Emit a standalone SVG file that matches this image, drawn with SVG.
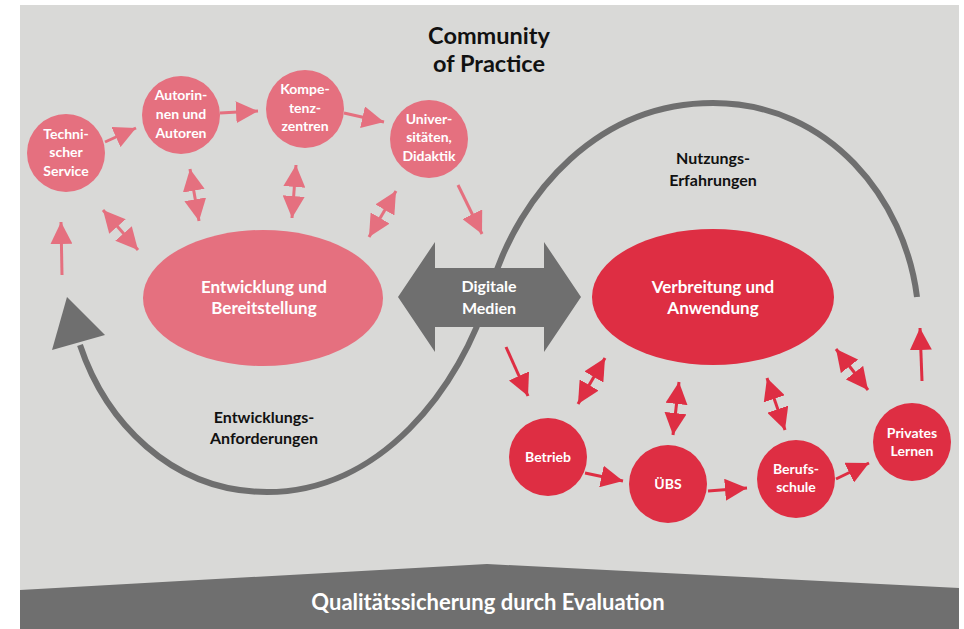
<svg xmlns="http://www.w3.org/2000/svg" width="964" height="629" viewBox="0 0 964 629">
<defs>
<style>
.bg{fill:#d9d9d7}
.dark{fill:#6f6f6f}
.pk{fill:#e5707f}
.rd{fill:#de2e43}
.t{font-family:Lato,"Liberation Sans",sans-serif;font-weight:700;text-anchor:middle}
.w{fill:#ffffff}
.k{fill:#111111}
.cl{stroke:#6f6f6f;stroke-width:6;fill:none}
.lp{stroke:#e5707f;stroke-width:3;fill:none}
.lr{stroke:#de2e43;stroke-width:3;fill:none}
</style>
<marker id="hp" markerUnits="userSpaceOnUse" markerWidth="22" markerHeight="22" viewBox="0 0 20 20" refX="20" refY="10" orient="auto-start-reverse"><path d="M0,0 L20,10 L0,20 z" fill="#e5707f"/></marker>
<marker id="hr" markerUnits="userSpaceOnUse" markerWidth="22" markerHeight="22" viewBox="0 0 20 20" refX="20" refY="10" orient="auto-start-reverse"><path d="M0,0 L20,10 L0,20 z" fill="#de2e43"/></marker>
</defs>
<rect class="bg" x="20" y="5" width="939" height="624"/>
<polygon class="dark" points="20,590 487,564 959,588 959,629 20,629"/>
<text class="t w" x="488" y="610" font-size="22">Qualitätssicherung durch Evaluation</text>
<text class="t k" x="489" y="44" font-size="23.5">Community</text>
<text class="t k" x="489" y="72" font-size="23.5">of Practice</text>

<g id="cycle">
<path class="cl" d="M917,297 C905,200 830,103 713,103 C600,103 520,190 490,290 C460,390 380,492 267,492 C170,492 105,420 80,345"/>
<polygon class="dark" points="67,297 52,350 105,335"/>
<text class="t k" x="713" y="164" font-size="16">Nutzungs-</text>
<text class="t k" x="713" y="186" font-size="16">Erfahrungen</text>
<text class="t k" x="264" y="423" font-size="16">Entwicklungs-</text>
<text class="t k" x="264" y="444" font-size="16">Anforderungen</text>
</g>

<g id="connectors">
<line class="lp" x1="105" y1="142" x2="136" y2="128" marker-end="url(#hp)"/>
<line class="lp" x1="220" y1="113" x2="258" y2="111" marker-end="url(#hp)"/>
<line class="lp" x1="344" y1="113" x2="384" y2="122" marker-end="url(#hp)"/>
<line class="lp" x1="458" y1="185" x2="482" y2="234" marker-end="url(#hp)"/>
<line class="lp" x1="62" y1="275" x2="61" y2="222" marker-end="url(#hp)"/>
<line class="lp" x1="103" y1="210" x2="138" y2="250" marker-start="url(#hp)" marker-end="url(#hp)"/>
<line class="lp" x1="190" y1="169" x2="199" y2="221" marker-start="url(#hp)" marker-end="url(#hp)"/>
<line class="lp" x1="296" y1="165" x2="292" y2="218" marker-start="url(#hp)" marker-end="url(#hp)"/>
<line class="lp" x1="396" y1="191" x2="369" y2="237" marker-start="url(#hp)" marker-end="url(#hp)"/>
<line class="lr" x1="506" y1="347" x2="528" y2="396" marker-end="url(#hr)"/>
<line class="lr" x1="605" y1="358" x2="578" y2="404" marker-start="url(#hr)" marker-end="url(#hr)"/>
<line class="lr" x1="679" y1="382" x2="673" y2="435" marker-start="url(#hr)" marker-end="url(#hr)"/>
<line class="lr" x1="767" y1="378" x2="785" y2="430" marker-start="url(#hr)" marker-end="url(#hr)"/>
<line class="lr" x1="836" y1="349" x2="868" y2="390" marker-start="url(#hr)" marker-end="url(#hr)"/>
<line class="lr" x1="922" y1="381" x2="920" y2="328" marker-end="url(#hr)"/>
<line class="lr" x1="585" y1="473" x2="623" y2="481" marker-end="url(#hr)"/>
<line class="lr" x1="708" y1="491" x2="747" y2="488" marker-end="url(#hr)"/>
<line class="lr" x1="836" y1="479" x2="869" y2="463" marker-end="url(#hr)"/>
</g>

<g id="digitale-medien">
<polygon class="dark" points="398,297 435,242 435,268 544,268 544,242 581,297 544,352 544,327 435,327 435,352"/>
<text class="t w" x="489" y="292" font-size="16">Digitale</text>
<text class="t w" x="489" y="314" font-size="16">Medien</text>
</g>

<g id="entwicklung">
<ellipse class="pk" cx="263" cy="298" rx="120" ry="68"/>
<text class="t w" x="264" y="293" font-size="17">Entwicklung und</text>
<text class="t w" x="264" y="314" font-size="17">Bereitstellung</text>
</g>
<g id="verbreitung">
<ellipse class="rd" cx="713" cy="297" rx="121" ry="68"/>
<text class="t w" x="713" y="293" font-size="17">Verbreitung und</text>
<text class="t w" x="713" y="314" font-size="17">Anwendung</text>
</g>

<g id="technischer-service">
<circle class="pk" cx="66" cy="153" r="39"/>
<text class="t w" x="66" y="139" font-size="14">Techni-</text>
<text class="t w" x="66" y="157" font-size="14">scher</text>
<text class="t w" x="66" y="176" font-size="14">Service</text>
</g>
<g id="autoren">
<circle class="pk" cx="181" cy="115" r="39"/>
<text class="t w" x="181" y="100" font-size="14">Autorin-</text>
<text class="t w" x="181" y="119" font-size="14">nen und</text>
<text class="t w" x="181" y="138" font-size="14">Autoren</text>
</g>
<g id="kompetenzzentren">
<circle class="pk" cx="305" cy="109" r="39"/>
<text class="t w" x="305" y="94" font-size="14">Kompe-</text>
<text class="t w" x="305" y="113" font-size="14">tenz-</text>
<text class="t w" x="305" y="131" font-size="14">zentren</text>
</g>
<g id="universitaeten">
<circle class="pk" cx="429" cy="139" r="39"/>
<text class="t w" x="429" y="124" font-size="14">Univer-</text>
<text class="t w" x="429" y="142" font-size="14">sitäten,</text>
<text class="t w" x="429" y="161" font-size="14">Didaktik</text>
</g>

<g id="betrieb">
<circle class="rd" cx="548" cy="457" r="39"/>
<text class="t w" x="548" y="462" font-size="14">Betrieb</text>
</g>
<g id="uebs">
<circle class="rd" cx="668" cy="484" r="39"/>
<text class="t w" x="668" y="489" font-size="14">ÜBS</text>
</g>
<g id="berufsschule">
<circle class="rd" cx="796" cy="479" r="39"/>
<text class="t w" x="796" y="474" font-size="14">Berufs-</text>
<text class="t w" x="796" y="492" font-size="14">schule</text>
</g>
<g id="privates-lernen">
<circle class="rd" cx="912" cy="442" r="39"/>
<text class="t w" x="912" y="438" font-size="14">Privates</text>
<text class="t w" x="912" y="456" font-size="14">Lernen</text>
</g>
</svg>
